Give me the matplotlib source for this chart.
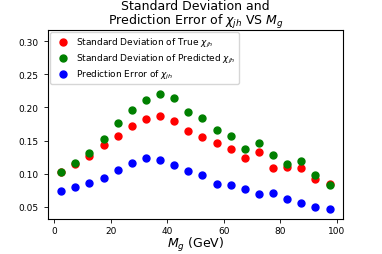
import matplotlib
matplotlib.use("Agg")
import matplotlib.pyplot as plt
import numpy as np

# mass bins (GeV)
mg = [2.5, 7.5, 12.5, 17.5, 22.5, 27.5, 32.5, 37.5, 42.5, 47.5,
      52.5, 57.5, 62.5, 67.5, 72.5, 77.5, 82.5, 87.5, 92.5, 97.5]

std_true = [0.103, 0.1145, 0.1265, 0.1435, 0.1565, 0.172, 0.1825, 0.187, 0.1795, 0.1645,
            0.156, 0.1465, 0.137, 0.1235, 0.1325, 0.108, 0.1105, 0.108, 0.0915, 0.0835]
std_pred = [0.1025, 0.1165, 0.131, 0.153, 0.176, 0.1965, 0.212, 0.221, 0.215, 0.1935,
            0.1835, 0.166, 0.1575, 0.137, 0.1455, 0.1285, 0.115, 0.1185, 0.0975, 0.082]
pred_err = [0.073, 0.0795, 0.0855, 0.0935, 0.1055, 0.1165, 0.124, 0.1205, 0.113, 0.1045,
            0.0985, 0.0845, 0.082, 0.0765, 0.0695, 0.071, 0.061, 0.0555, 0.050, 0.0455]

fig = plt.figure(figsize=(3.82, 2.55), dpi=100)
ax = fig.add_axes([0.125, 0.137, 0.773, 0.743])

ax.scatter(mg, std_true, s=25, c="red", label=r"Standard Deviation of True $\chi_{jh}$")
ax.scatter(mg, std_pred, s=25, c="green", label=r"Standard Deviation of Predicted $\chi_{jh}$")
ax.scatter(mg, pred_err, s=25, c="blue", label=r"Prediction Error of $\chi_{jh}$")

ax.set_ylim(0.031, 0.318)
ax.set_xticks([0, 20, 40, 60, 80, 100])
ax.set_yticks([0.05, 0.10, 0.15, 0.20, 0.25, 0.30])
ax.tick_params(labelsize=6.5, length=3, width=0.6)
ax.tick_params(axis="x", pad=2)
for s in ax.spines.values():
    s.set_linewidth(0.8)

ax.set_xlabel(r"$M_g$ (GeV)", fontsize=9, labelpad=0)
ax.set_title("Standard Deviation and\nPrediction Error of $\\chi_{jh}$ VS $M_g$",
             fontsize=9, pad=2, linespacing=0.95)
ax.legend(loc="upper left", fontsize=6.5, borderaxespad=0.3, handletextpad=0.4,
          labelspacing=0.3)

fig.savefig("out.png", dpi=100)
